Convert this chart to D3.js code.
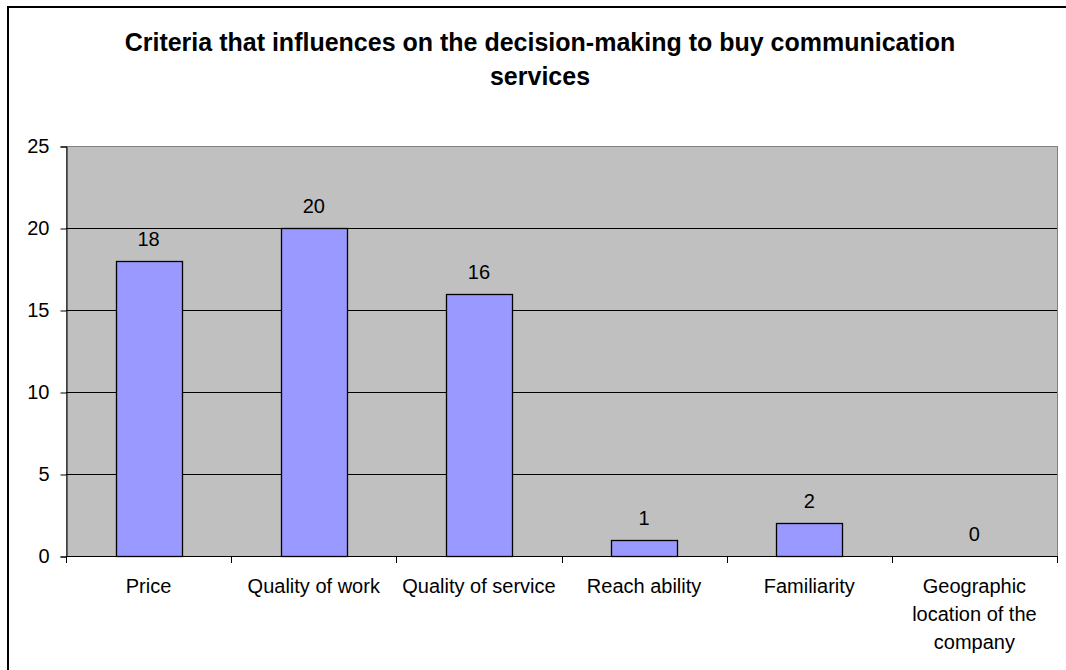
<!DOCTYPE html>
<html>
<head>
<meta charset="utf-8">
<script src="https://cdn.jsdelivr.net/npm/d3@7"></script>
<style>
  html, body { margin: 0; padding: 0; background: #fff; }
  svg { display: block; font-family: "Liberation Sans", Arial, sans-serif; }
</style>
</head>
<body>
<svg id="chart" width="1066" height="670"></svg>
<script>
// Survey answers: what influences the decision to buy communication services
const categories = ["Price", "Quality of work", "Quality of service", "Reach ability", "Familiarity", "Geographic location of the company"];
const responses = [18, 20, 16, 1, 2, 0];
const yTicks = [0, 5, 10, 15, 20, 25];
const titleLines = ["Criteria that influences on the decision-making to buy communication", "services"];

const svg = d3.select("#chart");
const W = 1066, H = 670;
const plot = { left: 66, top: 146, right: 1057, bottom: 556 };

// outer chart frame (runs past the right and bottom edges)
svg.append("rect")
  .attr("x", 8).attr("y", 7)
  .attr("width", W + 20).attr("height", H + 20)
  .attr("fill", "#fff").attr("stroke", "#000").attr("stroke-width", 2);

// title
svg.append("g").selectAll("text").data(titleLines).join("text")
  .attr("x", 540).attr("y", (d, i) => 51 + i * 34)
  .attr("text-anchor", "middle")
  .attr("font-size", 25).attr("font-weight", "bold").attr("fill", "#000")
  .text(d => d);

const x = d3.scaleBand().domain(categories).range([plot.left, plot.right]).paddingInner(0).paddingOuter(0);
const y = d3.scaleLinear().domain([0, 25]).range([plot.bottom, plot.top]);
const barW = x.bandwidth() / 2.5;

// plot background
svg.append("rect")
  .attr("x", plot.left + 0.5).attr("y", plot.top + 0.5)
  .attr("width", plot.right - plot.left).attr("height", plot.bottom - plot.top)
  .attr("fill", "#c0c0c0").attr("stroke", "#808080").attr("stroke-width", 1);

// gridlines
svg.append("g").selectAll("line").data(yTicks.filter(t => t > 0 && t < 25)).join("line")
  .attr("x1", plot.left).attr("x2", plot.right)
  .attr("y1", d => Math.round(y(d)) + 0.5).attr("y2", d => Math.round(y(d)) + 0.5)
  .attr("stroke", "#000").attr("stroke-width", 1);

// y axis
const yAxis = svg.append("g")
  .attr("transform", `translate(${plot.left + 0.5},0.5)`)
  .call(d3.axisLeft(y).tickValues(yTicks).tickSize(6).tickPadding(11).tickFormat(d3.format("d")));
yAxis.select(".domain").attr("stroke", "#000");
yAxis.selectAll(".tick line").attr("stroke", "#000");
yAxis.selectAll(".tick text").attr("font-size", 20).attr("fill", "#000")
  .attr("font-family", "Liberation Sans, Arial, sans-serif");

// bars
svg.append("g").selectAll("rect").data(responses).join("rect")
  .attr("x", (d, i) => Math.round(x(categories[i]) + (x.bandwidth() - barW) / 2) + 0.5)
  .attr("y", d => Math.round(y(d)) + 0.5)
  .attr("width", Math.round(barW))
  .attr("height", d => Math.round(y(0)) - Math.round(y(d)))
  .attr("fill", "#9999ff").attr("stroke", "#000").attr("stroke-width", 1.3)
  .attr("display", d => d > 0 ? null : "none");

// value labels
svg.append("g").selectAll("text").data(responses).join("text")
  .attr("x", (d, i) => x(categories[i]) + x.bandwidth() / 2)
  .attr("y", d => y(d) - 15)
  .attr("text-anchor", "middle")
  .attr("font-size", 20).attr("fill", "#000")
  .text(d => d);

// x axis line
svg.append("line")
  .attr("x1", plot.left).attr("x2", plot.right)
  .attr("y1", Math.round(y(0)) + 0.5).attr("y2", Math.round(y(0)) + 0.5)
  .attr("stroke", "#000");

// category boundary ticks
const bounds = categories.map(c => x(c)).concat([plot.right]);
svg.append("g").selectAll("line").data(bounds).join("line")
  .attr("x1", d => Math.round(d) + 0.5).attr("x2", d => Math.round(d) + 0.5)
  .attr("y1", plot.bottom).attr("y2", plot.bottom + 7)
  .attr("stroke", "#000");

// category labels, wrapped to the band width
const labelG = svg.append("g");
categories.forEach(c => {
  const cx = x(c) + x.bandwidth() / 2;
  const t = labelG.append("text")
    .attr("x", cx).attr("y", 593)
    .attr("text-anchor", "middle").attr("font-size", 20).attr("fill", "#000");
  const words = c.split(" ");
  let line = [];
  let tspan = t.append("tspan").attr("x", cx).attr("dy", 0);
  words.forEach(w => {
    line.push(w);
    tspan.text(line.join(" "));
    if (tspan.node().getComputedTextLength() > 158 && line.length > 1) {
      line.pop();
      tspan.text(line.join(" "));
      line = [w];
      tspan = t.append("tspan").attr("x", cx).attr("dy", 28).text(w);
    }
  });
});
</script>
</body>
</html>
